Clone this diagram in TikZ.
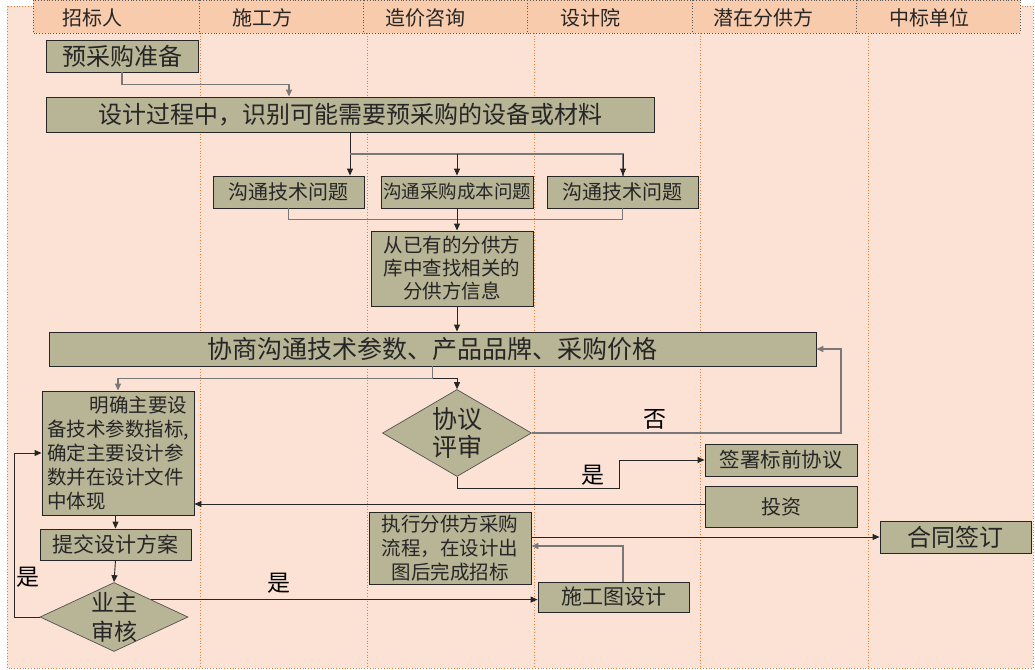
\documentclass[tikz,border=0pt]{standalone}
\usepackage{fontspec}
\setmainfont{Noto Sans CJK SC}
\usetikzlibrary{shapes.geometric,arrows.meta}

\definecolor{lanefill}{RGB}{251,226,213}
\definecolor{headfill}{RGB}{248,203,173}
\definecolor{boxfill}{RGB}{184,180,150}
\definecolor{laneline}{RGB}{237,125,49}
\definecolor{inkgray}{RGB}{38,38,38}
\definecolor{wiregray}{RGB}{120,120,120}

\newcommand{\fsz}[2]{\fontsize{#1}{#2}\selectfont}

\tikzset{
  stepbox/.style={draw=inkgray, fill=boxfill, text=inkgray, inner sep=0pt, line width=0.9pt},
  decide/.style={diamond, draw=inkgray!80, fill=boxfill, text=inkgray, inner sep=0pt, line width=0.7pt},
  lanehead/.style={text=inkgray, font=\fsz{20}{24}},
  answer/.style={text=black, font=\fsz{23}{26}},
  link/.style={draw=inkgray, line width=0.9pt, -{Triangle[length=7pt,width=6pt]}},
  glink/.style={draw=wiregray, line width=1.5pt, -{Triangle[length=7pt,width=6pt]}},
  gpath/.style={draw=wiregray, line width=1.5pt},
}

\begin{document}
\begin{tikzpicture}[x=1pt,y=-1pt]
\useasboundingbox (0,0) rectangle (1035,669);
%% lanes
\fill[lanefill] (7,6) rectangle (1033,668);
\draw[laneline, dotted, line width=0.8pt] (7,6) rectangle (1033,668);
\foreach \x in {200,367,534,700,868}
  \draw[laneline, dotted, line width=0.8pt] (\x,33) -- (\x,668);
%% header
\foreach \a/\b/\c/\name [count=\i] in {33/199/92/招标人,199/363/262/施工方,363/527/425/造价咨询,527/692/590/设计院,692/856/763/潜在分供方,856/1020/929/中标单位} {
  \filldraw[fill=headfill, draw=gray!70!black, dotted, line width=0.8pt] (\a,0) rectangle (\b,33);
  \node[lanehead] (head\i) at (\c,18) {\name};
}
%% steps
\node[stepbox, minimum width=152, minimum height=32, font=\fsz{24}{28}] (prep) at (122,56) {预采购准备};
\node[stepbox, minimum width=608, minimum height=35, font=\fsz{24}{28}] (ident) at (350,114.5) {设计过程中，识别可能需要预采购的设备或材料};
\node[stepbox, minimum width=151, minimum height=32, font=\fsz{20}{24}] (techA) at (288.5,192) {沟通技术问题};
\node[stepbox, minimum width=152, minimum height=32, font=\fsz{18.5}{22}] (costB) at (457,192) {沟通采购成本问题};
\node[stepbox, minimum width=151, minimum height=32, font=\fsz{20}{24}] (techC) at (622.5,192) {沟通技术问题};
\node[stepbox, minimum width=162, minimum height=75, align=center, font=\fsz{19.5}{23}] (lookup) at (452,268.5) {从已有的分供方\\库中查找相关的\\分供方信息};
\node[stepbox, minimum width=767, minimum height=34, font=\fsz{25}{28}] (nego) at (432.5,349) {协商沟通技术参数、产品品牌、采购价格};
\node[stepbox, minimum width=152, minimum height=124, align=left, font=\fsz{19.5}{24}] (spec) at (118,453) {\hspace*{2.2em}明确主要设\\备技术参数指标,\\确定主要设计参\\数并在设计文件\\中体现};
\node[decide, aspect=1.7, minimum width=149, minimum height=87, align=center, font=\fsz{25}{28}] (rev) at (457,433) {协议\\评审};
\node[stepbox, minimum width=152, minimum height=32, font=\fsz{20.5}{24}] (sign) at (781,460) {签署标前协议};
\node[stepbox, minimum width=152, minimum height=41, font=\fsz{20}{24}] (invest) at (781,506.5) {投资};
\node[stepbox, minimum width=162, minimum height=72, align=center, font=\fsz{19.5}{24}] (exec) at (450,548) {执行分供方采购\\流程，在设计出\\图后完成招标};
\node[stepbox, minimum width=151, minimum height=32, font=\fsz{24}{28}] (contract) at (955.5,537) {合同签订};
\node[stepbox, minimum width=151, minimum height=30, font=\fsz{21}{24}] (shop) at (613.5,597) {施工图设计};
\node[stepbox, minimum width=151, minimum height=31, font=\fsz{21}{24}] (submit) at (115.5,544.5) {提交设计方案};
\node[decide, aspect=2.1, inner sep=-4pt, minimum width=148, minimum height=69, align=center, font=\fsz{23}{29}] (own) at (114,617) {业主\\审核};
%% connectors
\draw[glink] (prep.south) -- ++(0,12) -| ([xshift=-61pt]ident.north);
\coordinate (split) at (350,154);
\draw[link] (ident.south) -- (ident.south |- techA.north);
\draw[gpath] (split) -| ([xshift=0.5pt]techC.north);
\draw[link] (costB.north |- split) -- (costB.north);
\draw[link] ([xshift=0.5pt]techC.north |- split) -- ([xshift=0.5pt]techC.north);
\draw[gpath] (techA.south) -- ++(0,11) -| (techC.south);
\draw[link] (costB.south) -- (costB.south |- lookup.north);
\draw[link] (costB.south |- lookup.south) -- (costB.south |- nego.north);
\draw[link] (nego.south) -- ++(0,12) -| (rev.north);
\draw[glink] (nego.south) -- ++(0,12) -| (spec.north);
\draw[glink] (rev.east) -- ++(309,0) |- (nego.east);
\draw[link] (rev.south) -- ++(0,12) -- ++(162,0) |- (sign.west);
\draw[link] ([yshift=2.5pt]invest.west) -- ([yshift=2.5pt]invest.west -| spec.east);
\draw[link] (submit.north |- spec.south) -- (submit.north);
\draw[link] (submit.south) -- (own.north);
\draw[link] (own.west) -- ++(-25,0) |- (spec.west);
\draw[link] (own.north east) -- (own.north east -| shop.west);
\draw[link] (contract.west -| exec.east) -- (contract.west);
\draw[glink] ([xshift=9.5pt]shop.north) |- ([yshift=2pt]exec.east);
%% answers
\node[answer] (no) at (655,419) {否};
\node[answer] (yessign) at (593,475) {是};
\node[answer] (yesback) at (28,577) {是};
\node[answer] (yesshop) at (279,583) {是};
\end{tikzpicture}
\end{document}
